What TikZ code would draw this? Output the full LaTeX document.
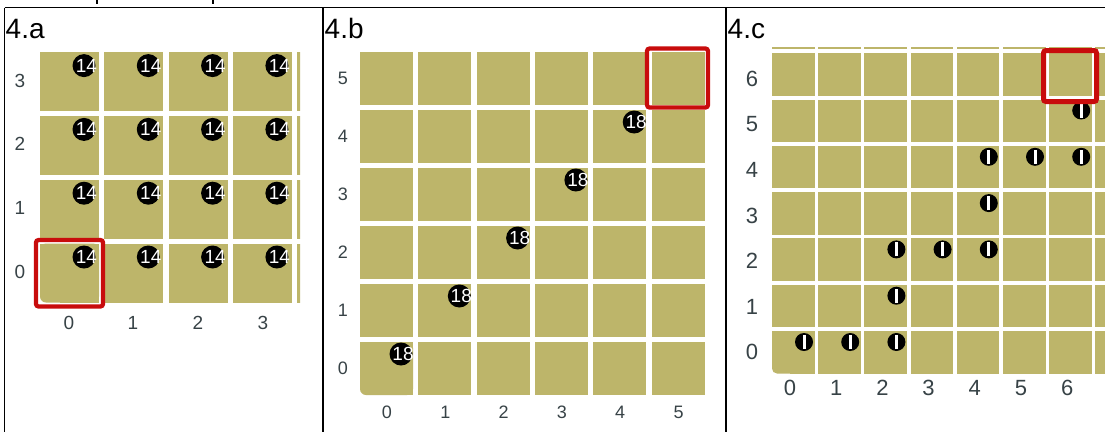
\documentclass[tikz,border=0pt]{standalone}
\usepackage{fontspec}
\setmainfont{Liberation Sans}
\definecolor{cellolive}{RGB}{189,181,106}
\definecolor{boxred}{RGB}{200,12,12}
\definecolor{labgray}{RGB}{55,66,70}
\tikzset{
  border/.style={line width=1.6, black},
  cellbox/.style={fill=cellolive},
  redbox/.style={draw=boxred, line width=4.2, rounded corners=2.5},
  title/.style={anchor=base west, inner sep=0, font=\fontsize{28}{30}\selectfont},
  laba/.style={inner sep=0, text=labgray, font=\fontsize{19}{21}\selectfont},
  labb/.style={inner sep=0, text=labgray, font=\fontsize{18}{20}\selectfont},
  labc/.style={inner sep=0, text=labgray, font=\fontsize{22}{24}\selectfont},
  bigball/.style={circle, fill=black, inner sep=0, minimum size=23},
  bignum/.style={inner sep=0, text=white, font=\fontsize{19}{19}\selectfont},
  smallball/.style={circle, fill=black, inner sep=0, minimum size=18},
  bar/.style={white, line width=3},
}
\begin{document}
\begin{tikzpicture}[x=1pt, y=-1pt]
\useasboundingbox (0,0) rectangle (1105,432);
\fill[white] (0,0) rectangle (1105,432);

% clipped descenders of text above
\draw[line width=1.6] (97,0) -- (97,4);
\draw[line width=1.6] (213,0) -- (213,4);

% ---------- panel 4.a ----------
\begin{scope}
\clip (0,0) rectangle (300,432);
\foreach \c in {0,...,4} \foreach \r in {0,...,3} {
  \ifnum\c\r=00 \else
  \fill[cellbox] ({40+64.3*\c},{243.5-63.8*\r}) rectangle +(59,59);
  \fi
}
\end{scope}
\fill[cellbox, rounded corners=6] (40,243.5) rectangle +(59,59);
\fill[cellbox] (40,243.5) rectangle (99,290);
\fill[cellbox] (60,243.5) rectangle (99,302.5);
\foreach \c in {0,...,3} \foreach \r in {0,...,3} {
  \node[bigball] (ba-\c-\r) at ({40+64.3*\c+44},{243.5-63.8*\r+13.5}) {};
  \node[bignum] (na-\c-\r) at ([xshift=2.5]ba-\c-\r.center) {14};
}
\draw[redbox] (36,240) rectangle (103,306.5);
\foreach \r/\y in {0/272,1/208,2/144,3/81} \node[laba] (ar\r) at (20,\y) {\r};
\foreach \c/\x in {0/69,1/133,2/198,3/263} \node[laba] (ac\c) at (\x,323) {\c};

% ---------- panel 4.b ----------
\foreach \c in {0,...,5} \foreach \r in {0,...,5} {
  \ifnum\c\r=00 \else
  \fill[cellbox] ({360+58.3*\c},{342-58*\r}) rectangle +(53,53);
  \fi
}
\fill[cellbox, rounded corners=6] (360,342) rectangle +(53,53);
\fill[cellbox] (360,342) rectangle (413,380);
\fill[cellbox] (380,342) rectangle (413,395);
\foreach \i in {0,...,4} {
  \node[bigball] (bb-\i) at ({360+58.3*\i+41},{342-58*\i+12}) {};
  \node[bignum] (nb-\i) at ([xshift=2]bb-\i.center) {18};
}
\draw[redbox] (647,48.5) rectangle (708,107.5);
\foreach \r in {0,...,5} \node[labb] (br\r) at (343,{368-58*\r}) {\r};
\foreach \c in {0,...,5} \node[labb] (bc\c) at ({387+58.3*\c},412) {\c};

% ---------- panel 4.c ----------
\begin{scope}
\clip (726,47) rectangle (1105,432);
\foreach \c in {0,...,7} \foreach \r in {0,...,7} {
  \ifnum\c\r=00 \else
  \fill[cellbox] ({772+46.2*\c},{331-46.3*\r}) rectangle +(42.5,42.5);
  \fi
}
\end{scope}
\fill[cellbox, rounded corners=5] (772,331) rectangle +(42.5,42.5);
\fill[cellbox] (772,331) rectangle (814.5,360);
\fill[cellbox] (790,331) rectangle (814.5,373.5);
\foreach \c/\r in {0/0,1/0,2/0,2/1,2/2,3/2,4/2,4/3,4/4,5/4,6/4,6/5} {
  \node[smallball] (bc-\c-\r) at ({772+46.2*\c+32},{331-46.3*\r+11}) {};
  \draw[bar] ([yshift=-7]bc-\c-\r.center) -- ([yshift=7]bc-\c-\r.center);
}
\draw[redbox, line width=5] (1043.5,50.5) rectangle (1096.5,101.5);
\foreach \r in {0,...,6} \node[labc] (cr\r) at (752,{352-45.5*\r}) {\r};
\foreach \c in {0,...,6} \node[labc] (cc\c) at ({790+46.2*\c},388) {\c};

% ---------- table lines and titles ----------
\draw[border] (4.5,7.5) -- (1105,7.5);
\draw[border] (4.5,7.5) -- (4.5,432);
\draw[border] (323,7.5) -- (323,432);
\draw[border] (726,7.5) -- (726,432);
\node[title] (ta) at (5.5,38) {4.a};
\node[title] (tb) at (324.5,38) {4.b};
\node[title] (tc) at (727.5,38) {4.c};
\end{tikzpicture}
\end{document}
